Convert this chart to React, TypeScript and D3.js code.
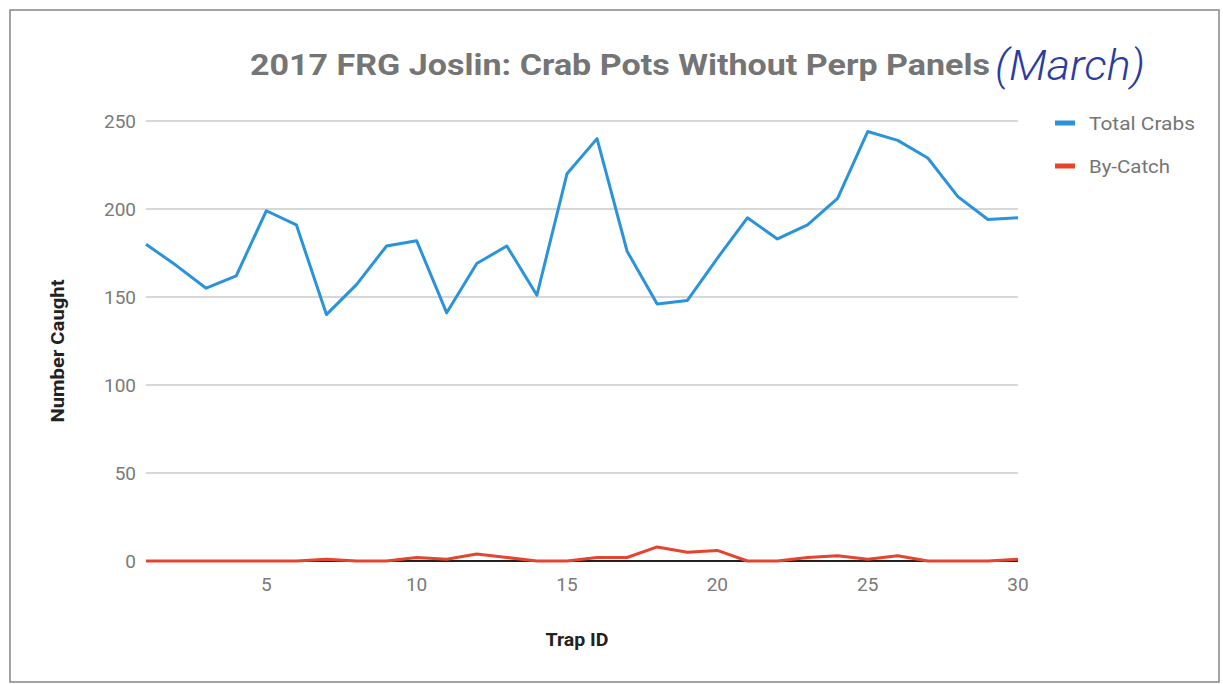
import * as d3 from "d3";

const WIDTH = 1223;
const HEIGHT = 684;
const MARGIN = { top: 121, right: 205, bottom: 123, left: 146 };

const TITLE = "2017 FRG Joslin: Crab Pots Without Perp Panels";
const NOTE = "(March)";

const trapIds = d3.range(1, 31);
const totalCrabs = [
  180, 168, 155, 162, 199, 191, 140, 157, 179, 182,
  141, 169, 179, 151, 220, 240, 176, 146, 148, 172,
  195, 183, 191, 206, 244, 239, 229, 207, 194, 195,
];
const byCatch = [
  0, 0, 0, 0, 0, 0, 1, 0, 0, 2,
  1, 4, 2, 0, 0, 2, 2, 8, 5, 6,
  0, 0, 2, 3, 1, 3, 0, 0, 0, 1,
];
const yTicks = [0, 50, 100, 150, 200, 250];
const xTicks = [5, 10, 15, 20, 25, 30];

const series = [
  { name: "Total Crabs", values: totalCrabs, color: "#2b93d9", w: 106 },
  { name: "By-Catch", values: byCatch, color: "#e5452f", w: 81 },
];

const FONT = "Roboto, 'Noto Sans', Arial, sans-serif";

export default function App() {
  const x = d3
    .scaleLinear()
    .domain([1, 30])
    .range([MARGIN.left, WIDTH - MARGIN.right]);
  const y = d3
    .scaleLinear()
    .domain([0, 250])
    .range([HEIGHT - MARGIN.bottom, MARGIN.top]);

  const line = (vals: number[]) =>
    d3
      .line<number>()
      .x((_, i) => x(trapIds[i]))
      .y((d) => y(d))(vals) ?? "";

  return (
    <svg
      width={WIDTH}
      height={HEIGHT}
      style={{ position: "absolute", left: 0, top: 0, background: "#fff" }}
    >
      <rect x={10} y={10} width={1209} height={672} fill="#fff" stroke="#858585" strokeWidth={1.5} />

      {/* title + handwritten note */}
      <text
        x={250}
        y={75}
        fontFamily={FONT}
        fontWeight={700}
        fontSize={30}
        fill="#757575"
        textLength={740}
        lengthAdjust="spacingAndGlyphs"
      >
        {TITLE}
      </text>
      <text
        x={995}
        y={80}
        fontFamily={FONT}
        fontStyle="italic"
        fontWeight={300}
        fontSize={42}
        fill="#2c3c9e"
        textLength={150}
        lengthAdjust="spacingAndGlyphs"
      >
        {NOTE}
      </text>

      {/* grid */}
      {yTicks.filter((t) => t > 0).map((t) => (
        <line key={t} x1={x(1)} x2={x(30)} y1={y(t)} y2={y(t)} stroke="#b0b0b0" strokeWidth={1.2} />
      ))}
      <line x1={x(1)} x2={x(30)} y1={y(0)} y2={y(0)} stroke="#222" strokeWidth={2} />

      {/* y ticks */}
      {yTicks.map((t) => (
        <text
          key={t}
          x={x(1) - 10}
          y={y(t)}
          dy="0.35em"
          textAnchor="end"
          fontFamily={FONT}
          fontSize={19}
          fill="#7a7a7a"
        >
          {t}
        </text>
      ))}

      {/* x ticks */}
      {xTicks.map((t) => (
        <text
          key={t}
          x={x(t)}
          y={591}
          textAnchor="middle"
          fontFamily={FONT}
          fontSize={19}
          fill="#7a7a7a"
        >
          {t}
        </text>
      ))}

      {/* axis titles */}
      <text
        transform={`translate(64,${(y(0) + y(250)) / 2 + 10}) rotate(-90)`}
        textAnchor="middle"
        fontFamily={FONT}
        fontWeight={700}
        fontSize={19}
        fill="#222"
        textLength={143}
        lengthAdjust="spacingAndGlyphs"
      >
        Number Caught
      </text>
      <text
        x={(x(1) + x(30)) / 2 - 5}
        y={646}
        textAnchor="middle"
        fontFamily={FONT}
        fontWeight={700}
        fontSize={19}
        fill="#222"
        textLength={63}
        lengthAdjust="spacingAndGlyphs"
      >
        Trap ID
      </text>

      {/* series lines */}
      {series.map((s) => (
        <path
          key={s.name}
          d={line(s.values)}
          fill="none"
          stroke={s.color}
          strokeWidth={3}
          strokeLinejoin="round"
        />
      ))}

      {/* legend */}
      {series.map((s, i) => (
        <g key={s.name} transform={`translate(1055,${123 + i * 43})`}>
          <rect x={0} y={-2.5} width={20} height={5} fill={s.color} />
          <text
            x={34}
            y={0}
            dy="0.35em"
            fontFamily={FONT}
            fontSize={19}
            fill="#757575"
            textLength={s.w}
            lengthAdjust="spacingAndGlyphs"
          >
            {s.name}
          </text>
        </g>
      ))}
    </svg>
  );
}
